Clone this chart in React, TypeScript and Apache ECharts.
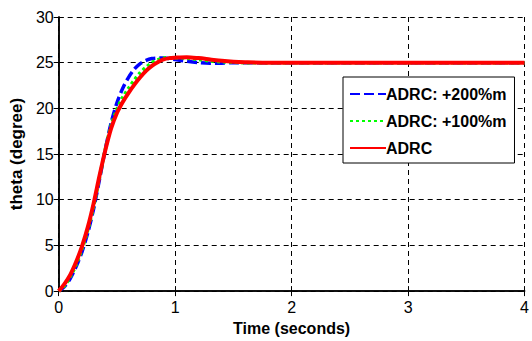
import React, { useEffect, useRef } from "react";
import * as echarts from "echarts";

const timeSec = [0, 0.05, 0.1, 0.15, 0.2, 0.25, 0.3, 0.35, 0.4, 0.45, 0.5, 0.55, 0.6, 0.65, 0.7, 0.75, 0.8, 0.85, 0.9, 0.95, 1.0, 1.1, 1.2, 1.3, 1.4, 1.5, 1.6, 1.8, 2.0, 2.5, 3.0, 3.5, 4.0];
const adrc200 = [0, 0.5, 1.4, 2.7, 4.3, 6.4, 9.0, 12.2, 15.5, 18.4, 20.6, 22.2, 23.4, 24.3, 24.9, 25.25, 25.45, 25.5, 25.5, 25.45, 25.35, 25.15, 25.0, 24.95, 24.95, 25.0, 25.0, 25.0, 25.0, 25.0, 25.0, 25.0, 25.0];
const adrc100 = [0, 0.6, 1.6, 2.9, 4.6, 6.7, 9.3, 12.4, 15.5, 18.1, 19.9, 21.2, 22.2, 23.1, 23.9, 24.5, 25.0, 25.3, 25.5, 25.55, 25.55, 25.5, 25.35, 25.2, 25.1, 25.05, 25.0, 25.0, 25.0, 25.0, 25.0, 25.0, 25.0];
const adrcBase = [0, 0.8, 1.8, 3.2, 4.9, 7.0, 9.6, 12.6, 15.4, 17.8, 19.5, 20.7, 21.7, 22.6, 23.4, 24.1, 24.65, 25.05, 25.35, 25.5, 25.55, 25.6, 25.5, 25.35, 25.2, 25.1, 25.05, 25.0, 25.0, 25.0, 25.0, 25.0, 25.0];
const xTicks = [0, 1, 2, 3, 4];
const yTicks = [0, 5, 10, 15, 20, 25, 30];

const seriesNames = ["ADRC: +200%m", "ADRC: +100%m", "ADRC"];

const pair = (ys: number[]) => timeSec.map((t, i) => [t, ys[i]]);

export default function App() {
  const ref = useRef<HTMLDivElement>(null);
  useEffect(() => {
    if (!ref.current) return;
    const chart = echarts.init(ref.current, null, { renderer: "svg" });
    const font = "'Liberation Sans', Arial, sans-serif";
    const gridLine = { type: [5, 4] as any, color: "#000", width: 1 };
    const tick = { show: true, inside: true, length: 5, lineStyle: { color: "#000", width: 1 } };
    const axLine = { show: true, lineStyle: { color: "#000", width: 1.5 } };
    chart.setOption({
      animation: false,
      backgroundColor: "#fff",
      grid: { left: 55, right: 6, top: 17, bottom: 46.5, containLabel: false },
      legend: {
        left: 343,
        top: 77,
        orient: "vertical",
        data: seriesNames,
        backgroundColor: "#fff",
        borderColor: "#000",
        borderWidth: 1,
        borderRadius: 0,
        padding: [9, 8, 7, 6],
        itemGap: 11,
        itemWidth: 36,
        itemHeight: 14,
        itemStyle: { opacity: 0, borderWidth: 0 },
        textStyle: { fontFamily: font, fontWeight: "bold", fontSize: 16, color: "#000", padding: [0, 0, 0, -5] },
      },
      xAxis: [
        {
          type: "value",
          min: 0,
          max: 4,
          interval: 1,
          name: "Time (seconds)",
          nameLocation: "middle",
          nameGap: 28,
          nameTextStyle: { fontFamily: font, fontWeight: "bold", fontSize: 16, color: "#000", verticalAlign: "top" },
          axisLine: axLine,
          axisTick: tick,
          axisLabel: { fontFamily: font, fontSize: 16, color: "#000", margin: 8, formatter: (v: number) => (xTicks.includes(v) ? String(v) : "") },
          splitLine: { show: true, lineStyle: gridLine },
        },
        {
          type: "value",
          position: "top",
          min: 0,
          max: 4,
          interval: 1,
          axisLine: axLine,
          axisTick: tick,
          axisLabel: { show: false },
          splitLine: { show: false },
        },
      ],
      yAxis: [
        {
          type: "value",
          min: 0,
          max: 30,
          interval: 5,
          name: "theta (degree)",
          nameLocation: "middle",
          nameGap: 29,
          nameTextStyle: { fontFamily: font, fontWeight: "bold", fontSize: 17, color: "#000" },
          axisLine: axLine,
          axisTick: tick,
          axisLabel: { fontFamily: font, fontSize: 16, color: "#000", margin: 5, formatter: (v: number) => (yTicks.includes(v) ? String(v) : "") },
          splitLine: { show: true, lineStyle: gridLine },
        },
        {
          type: "value",
          position: "right",
          min: 0,
          max: 30,
          interval: 5,
          axisLine: axLine,
          axisTick: tick,
          axisLabel: { show: false },
          splitLine: { show: false },
        },
      ],
      series: [
        {
          name: seriesNames[0],
          type: "line",
          data: pair(adrc200),
          smooth: 0.3,
          symbol: "none",
          lineStyle: { color: "#0000ff", width: 3.5, type: [10, 4] },
          itemStyle: { color: "#0000ff" },
          z: 2,
        },
        {
          name: seriesNames[1],
          type: "line",
          data: pair(adrc100),
          smooth: 0.3,
          symbol: "none",
          lineStyle: { color: "#00ff00", width: 3.5, type: [3, 3] },
          itemStyle: { color: "#00ff00" },
          z: 3,
        },
        {
          name: seriesNames[2],
          type: "line",
          data: pair(adrcBase),
          smooth: 0.3,
          symbol: "none",
          lineStyle: { color: "#ff0000", width: 4 },
          itemStyle: { color: "#ff0000" },
          z: 4,
        },
      ],
    });
    return () => chart.dispose();
  }, []);
  return <div ref={ref} style={{ width: 532, height: 341, position: "absolute", left: 0, top: 0 }} />;
}
